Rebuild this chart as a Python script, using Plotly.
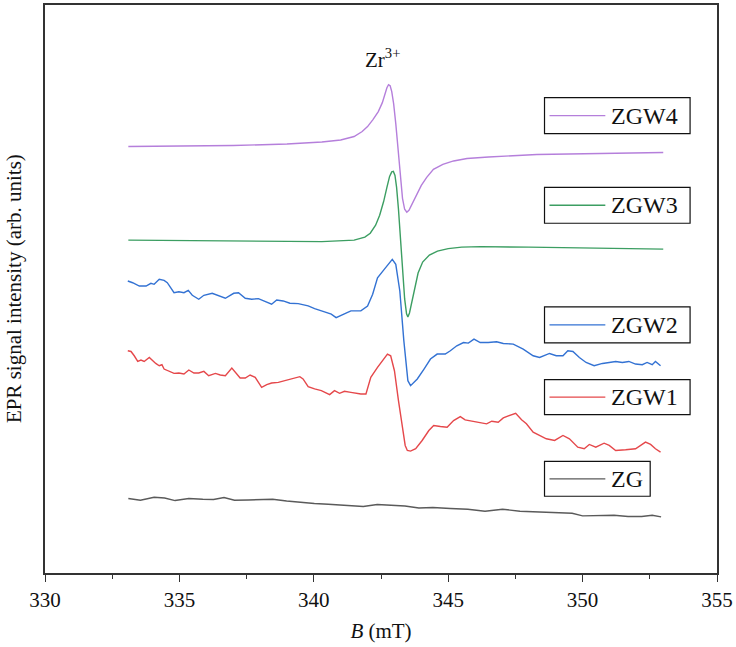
import plotly.graph_objects as go

# EPR spectra (B in mT, intensity in arbitrary units, traces offset vertically)
ZGW4_B = [333.1,335,337,339,340.3,341.0,341.5,341.8,342.0,342.2,342.4,342.55,342.65,342.72,342.78,342.84,342.9,342.97,343.05,343.13,343.22,343.3,343.38,343.46,343.54,343.65,343.8,344.0,344.2,344.45,344.8,345.2,345.7,346.5,348.3,350,353]
ZGW4_I = [428,428.3,429,430.5,432.5,434.5,438,443,448,455,463,472,481,487,490,489,483,471,451,425,397,376,365,362,364,370,379,389,397,405,410,413.5,416,417.5,420,421,422]

ZGW3_B = [333.1,335,337,339,340.3,341.5,341.9,342.1,342.3,342.45,342.6,342.72,342.82,342.9,342.96,343.02,343.08,343.15,343.23,343.3,343.38,343.45,343.5,343.56,343.65,343.75,343.88,344.05,344.3,344.6,345.0,345.5,346.2,348,350,352,353]
ZGW3_I = [334,333.5,333,333,332.5,334,337,341,349,359,373,387,398,402.5,403,399,387,365,333,303,275,260,257,261,273,287,301,312,319,323,325.5,327,327.5,327,326,325.5,325]

ZGW2_PTS = [(333.08,293),(333.26,291.3),(333.51,288),(333.76,288),(333.94,290.7),(334.06,289.7),(334.25,294.7),(334.43,293.7),(334.55,291.3),(334.68,286.3),(334.8,281.3),(334.98,282.3),(335.17,281.3),(335.33,283.7),(335.48,278.7),(335.72,274.7),(335.91,278.7),(336.22,280.7),(336.46,278),(336.71,275.7),(337.02,280.7),(337.2,281.3),(337.45,275.7),(337.69,274.7),(337.94,275.3),(338.19,272.3),(338.43,269.7),(338.62,274),(338.86,273),(339.11,270.7),(339.42,270.3),(339.79,268),(340.03,265.3),(340.4,262),(340.65,259.7),(340.83,256.3),(341.02,258.7),(341.24,262),(341.38,263),(341.75,263),(342.0,268),(342.19,279.7),(342.37,296.3),(342.62,304.7),(342.8,311.3),(342.92,314.7),(343.05,309.7),(343.2,283),(343.35,233),(343.5,193),(343.6,188),(343.85,194.7),(344.1,204.7),(344.34,214.7),(344.59,219.7),(344.89,219.7),(345.08,223),(345.32,228),(345.57,231.3),(345.75,230.7),(345.96,234.7),(346.19,231.3),(346.49,231.3),(346.8,232),(347.05,230.3),(347.42,229.7),(347.79,224.7),(348.16,218),(348.4,216.3),(348.77,220.3),(349.02,218),(349.27,218),(349.45,223),(349.64,222.3),(349.88,216.3),(350.13,211.3),(350.43,208),(350.74,210.3),(350.99,211.3),(351.23,212.3),(351.48,211.3),(351.72,212.3),(351.97,209.7),(352.22,209),(352.4,211.3),(352.59,209),(352.71,212.3),(352.9,208)]

ZGW1_PTS = [(333.08,223),(333.2,222.3),(333.32,218),(333.45,212.3),(333.57,213.7),(333.69,212.3),(333.88,216.3),(334.0,213),(334.12,210.3),(334.25,208),(334.35,209),(334.43,204.7),(334.62,202.3),(334.8,200.3),(334.98,200.7),(335.17,199.7),(335.35,203.7),(335.54,200.7),(335.72,200.7),(335.91,202.3),(336.09,198),(336.34,200.3),(336.52,198.7),(336.71,198),(336.95,205.7),(337.08,201.3),(337.26,195.7),(337.45,195.7),(337.63,198.7),(337.82,196.3),(338.06,186.3),(338.25,189),(338.43,190.7),(338.68,191.3),(338.92,193),(339.11,194.7),(339.29,196.3),(339.48,197),(339.6,194.7),(339.79,187),(340.03,184.7),(340.28,183),(340.59,179),(340.77,183),(340.96,180.3),(341.14,182.3),(341.38,181.3),(341.75,179.7),(341.94,179.7),(342.12,196.3),(342.37,206.3),(342.55,213),(342.74,219.7),(342.86,218),(343.0,203),(343.15,173),(343.3,143),(343.4,128),(343.48,123),(343.6,122.3),(343.79,124.7),(344.03,133),(344.28,143),(344.46,148),(344.71,147),(344.96,146.3),(345.2,153),(345.45,157),(345.63,153.7),(345.88,152.3),(346.19,150.3),(346.43,149.7),(346.62,152.3),(346.86,151.3),(347.05,155.7),(347.29,158),(347.51,160.3),(347.73,153.7),(347.91,149.7),(348.16,141.3),(348.4,138),(348.65,134.7),(348.96,133),(349.27,138),(349.51,134.7),(349.82,126.3),(350.06,124.7),(350.25,129),(350.49,126.3),(350.8,130.3),(350.99,128),(351.23,123),(351.6,123.7),(351.97,124.7),(352.34,131.3),(352.53,129),(352.71,124.7),(352.9,121.3)]

ZG_PTS = [(333.1,74.7),(333.55,73),(334.06,76),(334.45,75.3),(334.84,72.7),(335.35,74.7),(335.87,74),(336.27,73.7),(336.66,75.7),(337.05,73),(337.56,73.3),(337.95,73.3),(338.47,74),(338.99,72.3),(339.51,70.7),(340.02,69.7),(340.54,69),(341.19,68),(341.84,66.7),(342.36,68.7),(342.88,68),(343.39,67.3),(343.91,65.3),(344.43,65.7),(345.08,64.7),(345.73,64),(346.37,62),(347.02,64),(347.67,62),(348.32,61.3),(348.96,61.3),(349.61,60),(350.0,57.3),(350.65,58),(351.17,58),(351.69,56.7),(352.2,56.7),(352.59,58),(352.92,56.3)]

SERIES = ["ZGW4", "ZGW3", "ZGW2", "ZGW1", "ZG"]
COLORS = {"ZGW4": "#b57fdb", "ZGW3": "#3c9e62", "ZGW2": "#3372d3", "ZGW1": "#e5484b", "ZG": "#5a5a5a"}
X_TICKS = [330, 335, 340, 345, 350, 355]

FONT = "Liberation Serif, Times New Roman, serif"

data = {
    "ZGW4": (ZGW4_B, ZGW4_I),
    "ZGW3": (ZGW3_B, ZGW3_I),
    "ZGW2": ([p[0] for p in ZGW2_PTS], [p[1] for p in ZGW2_PTS]),
    "ZGW1": ([p[0] for p in ZGW1_PTS], [p[1] for p in ZGW1_PTS]),
    "ZG": ([p[0] for p in ZG_PTS], [p[1] for p in ZG_PTS]),
}

fig = go.Figure()
for name in SERIES:
    bx, iy = data[name]
    fig.add_trace(go.Scatter(x=bx, y=iy, mode="lines", name=name,
                             line=dict(color=COLORS[name], width=1.4),
                             showlegend=False))

# legend boxes placed next to each trace (paper-pixel geometry)
L, R, T, B = 45, 719, 3, 573
W, H = 736, 647
def px(xp):
    return (xp - L) / (R - L)
def py(yp):
    return (B - yp) / (B - T)

boxes = {"ZGW4": (96, 132, 692), "ZGW3": (186, 222, 692), "ZGW2": (306, 342, 692),
         "ZGW1": (379, 414, 692), "ZG": (461, 496, 652)}
shapes = []
annots = []
for name in SERIES:
    top, bot, right = boxes[name]
    shapes.append(dict(type="rect", xref="paper", yref="paper", x0=px(546), x1=px(right),
                       y0=py(bot), y1=py(top), line=dict(color="#111", width=1.2), fillcolor="white"))
    ymid = py((top + bot) / 2)
    shapes.append(dict(type="line", xref="paper", yref="paper", x0=px(551), x1=px(607),
                       y0=ymid, y1=ymid, line=dict(color=COLORS[name], width=1.4)))
    annots.append(dict(xref="paper", yref="paper", x=px(611), y=ymid, xanchor="left", yanchor="middle",
                       text=name, showarrow=False, font=dict(family=FONT, size=24, color="#111")))

annots.append(dict(xref="x", yref="paper", x=342.55, y=py(57), xanchor="center", yanchor="middle",
                   text="Zr<sup>3+</sup>", showarrow=False, font=dict(family=FONT, size=21, color="#111")))

# y-axis title
annots.append(dict(xref="paper", yref="paper", x=px(14), y=py(288), xanchor="center", yanchor="middle",
                   textangle=-90, text="EPR signal intensity (arb. units)", showarrow=False,
                   font=dict(family=FONT, size=21, color="#111")))

fig.update_layout(
    width=W, height=H,
    margin=dict(l=L, r=W - R, t=T, b=H - B),
    paper_bgcolor="white", plot_bgcolor="white",
    font=dict(family=FONT, size=20, color="#111"),
    shapes=shapes, annotations=annots,
    xaxis=dict(range=[330, 355], tickvals=X_TICKS, ticks="outside", ticklen=7, tickwidth=1.3,
               tickcolor="#333", showline=True, linecolor="#333", linewidth=1.5, mirror=True,
               showgrid=False, zeroline=False, tickfont=dict(family=FONT, size=21),
               minor=dict(dtick=2.5, ticks="outside", ticklen=4, tickwidth=1.2, tickcolor="#333"),
               title=dict(text="<i>B</i> (mT)", font=dict(family=FONT, size=21), standoff=12)),
    yaxis=dict(range=[0, 570], showticklabels=False, ticks="", showline=True, linecolor="#333",
               linewidth=1.5, mirror=True, showgrid=False, zeroline=False),
)

fig.write_html("out.html", config={"displayModeBar": False},
               post_script="document.body.style.margin='0px';")
